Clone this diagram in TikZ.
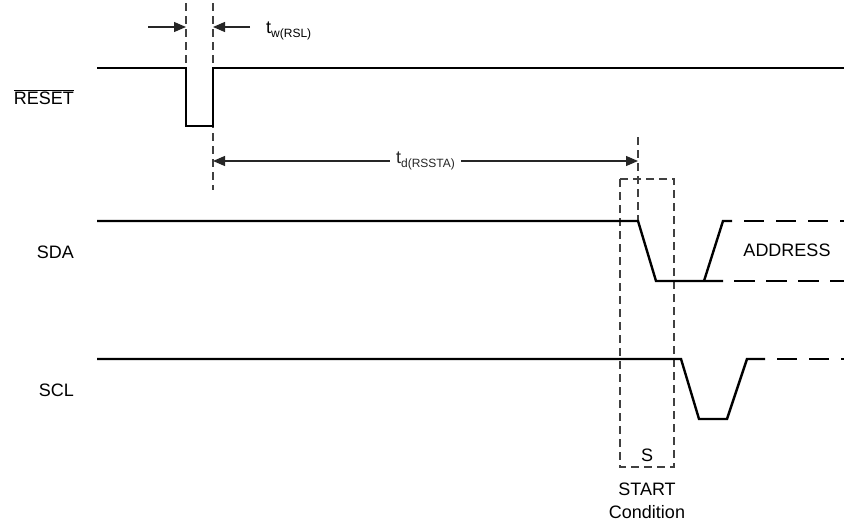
\documentclass[tikz,border=0pt]{standalone}
\usepackage{fontspec}
\setmainfont{Liberation Sans}
\usetikzlibrary{arrows.meta}
\newcommand{\tsub}[2]{#1\raisebox{-4pt}{\fontsize{12}{12}\selectfont #2}}
\tikzset{
  sig/.style={line width=2.4pt, line join=miter},
  sigdash/.style={sig, dash pattern=on 20pt off 12pt},
  guide/.style={line width=1.2pt, black!75, dash pattern=on 8pt off 5pt},
  dim/.style={line width=1.2pt, black!85, -{Triangle[length=12pt,width=10pt]}},
  lbl/.style={inner sep=0pt, font=\fontsize{18}{21}\selectfont},
}

\begin{document}
\begin{tikzpicture}[x=1pt,y=-1pt]
  \useasboundingbox (0,0) rectangle (844,525);

  %% signal names
  \node (00) [lbl,anchor=east] at (74,97)  {$\overline{\hbox{RESET}}$};
  \node (10) [lbl,anchor=east] at (74,252) {SDA};
  \node (20) [lbl,anchor=east] at (74,390) {SCL};

  %% guide lines
  \coordinate (a0) at (186,3);
  \coordinate (a1) at (186,68);
  \coordinate (b0) at (213,3);
  \coordinate (b1) at (213,190);
  \coordinate (c0) at (638,137);
  \coordinate (c1) at (638,221);
  \draw[guide] (a0) -- (a1);
  \draw[guide] (b0) -- (b1);
  \draw[guide] (c0) -- (c1);

  \coordinate (s0) at (620,179);
  \coordinate (s1) at (674,467);
  \draw[guide] (s0) rectangle (s1);

  %% timing arrows
  \coordinate (w0) at (148,27);
  \coordinate (w1) at (250,27);
  \coordinate (d0) at (0,161);
  \draw[dim] (w0) -- (a0 |- w0);
  \draw[dim] (w1) -- (b0 |- w1);
  \node (01) [lbl,anchor=base west] at (266,33) {\tsub{t}{w(RSL)}};

  \draw[dim,{Triangle[length=12pt,width=10pt]}-{Triangle[length=12pt,width=10pt]}]
    (b0 |- d0) -- node (11) [lbl,fill=white,inner xsep=6pt,inner ysep=3pt]
    {\tsub{t}{d(RSSTA)}} (c0 |- d0);

  %% waveforms
  \draw[sig] (97,68) -| (186,126) -| (213,68) -- (844,68);

  \draw[sig] (97,221) -- (638,221) -- (656,281) -- (723,281);
  \draw[sig] (704,281) -- (723,221) -- (732,221);
  \draw[sigdash] (744,221) -- (844,221);
  \draw[sigdash,dash pattern=on 21pt off 11pt] (734,281) -- (844,281);

  \draw[sig] (97,359) -- (681,359) -- (699,419) -- (727,419) -- (747,359) -- (765,359);
  \draw[sigdash] (777,359) -- (844,359);

  \node (12) [lbl] at (787,250) {ADDRESS};
  \node (22) [lbl] at (647,455) {S};
  \node (23) [lbl] at (647,489) {START};
  \node (24) [lbl] at (647,512) {Condition};
\end{tikzpicture}
\end{document}
